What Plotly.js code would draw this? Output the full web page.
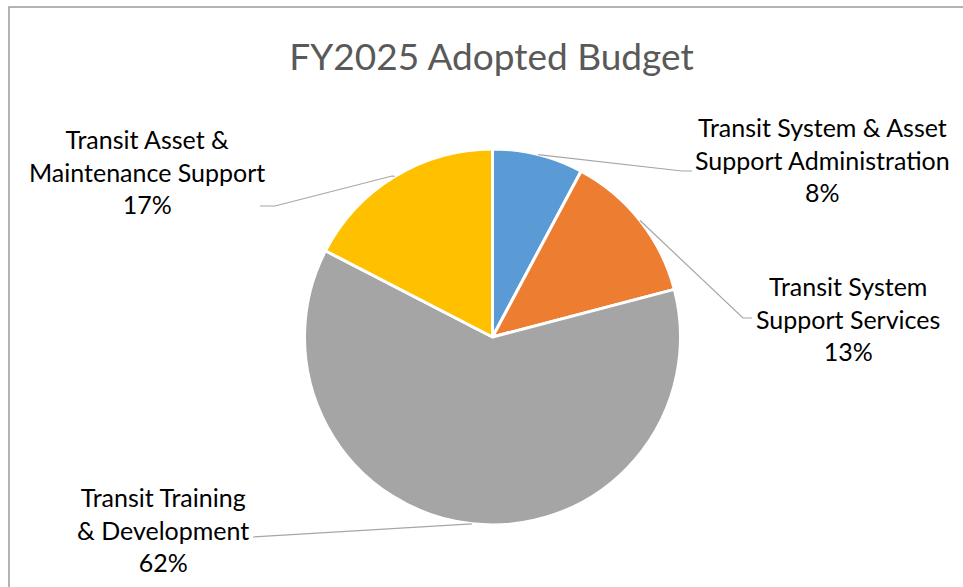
<!DOCTYPE html>
<html>
<head>
<meta charset="utf-8">
<script src="https://cdn.plot.ly/plotly-3.0.1.min.js"></script>
<style>html,body{margin:0;padding:0;background:#fff;}#chart{width:963px;height:587px;}</style>
</head>
<body>
<div id="chart"></div>
<script>
// ---- Data ----
const categories = [
  "Transit System & Asset Support Administration",
  "Transit System Support Services",
  "Transit Training & Development",
  "Transit Asset & Maintenance Support"
];
const labelLines = [
  "Transit System & Asset<br>Support Administration",
  "Transit System<br>Support Services",
  "Transit Training<br>& Development",
  "Transit Asset &<br>Maintenance Support"
];
const values = [7.8, 13.1, 61.6, 17.4];
const colors = ["#5B9BD5", "#ED7D31", "#A5A5A5", "#FFC000"];
const chartTitle = "FY2025 Adopted Budget";

// ---- Layout geometry (pixels) ----
const W = 963, H = 587;
const cx = 492.5, cy = 337, R = 188;
const px = x => x / W;
const py = y => 1 - y / H;

// label centres (middle line) and leader elbows / ends
const labelPos = [[822, 159], [848, 318], [163, 529], [147, 171]];
const elbows = [[682, 171], [743, 318], [475, 524], [392, 176]];
const ends   = [[692, 171], [752, 318], [253, 537], [275, 206]];
const ends2  = [null, null, null, [260, 206]];

const total = values.reduce((a, b) => a + b, 0);
let cum = 0;
const shapes = [];
const annotations = [];
values.forEach((v, i) => {
  const mid = (cum + v / 2) / total;
  cum += v;
  const ang = mid * 2 * Math.PI;
  const sx = cx + R * Math.sin(ang);
  const sy = cy - R * Math.cos(ang);
  const pts = [[sx, sy]];
  if (i !== 2) pts.push(elbows[i]);
  pts.push(ends[i]);
  if (ends2[i]) pts.push(ends2[i]);
  let path = "";
  pts.forEach((p, k) => { path += (k ? " L " : "M ") + px(p[0]) + "," + py(p[1]); });
  shapes.push({type: "path", xref: "paper", yref: "paper", path: path,
               line: {color: "#A6A6A6", width: 1.2}});
  const pct = Math.round(v / total * 100);
  annotations.push({
    xref: "paper", yref: "paper",
    x: px(labelPos[i][0]), y: py(labelPos[i][1]),
    xanchor: "center", yanchor: "middle",
    text: labelLines[i] + "<br>" + pct + "%",
    showarrow: false, align: "center",
    font: {family: "Lato, 'Open Sans', sans-serif", size: 25, color: "#000000"}
  });
});

// chart border
shapes.push({type: "rect", xref: "paper", yref: "paper",
  x0: px(9), y0: py(7), x1: px(975), y1: py(600),
  line: {color: "#9A9A9A", width: 1.5}, fillcolor: "rgba(0,0,0,0)"});

const trace = {
  type: "pie",
  labels: categories,
  values: values,
  sort: false,
  direction: "clockwise",
  rotation: 0,
  textinfo: "none",
  hoverinfo: "label+percent",
  marker: {colors: colors, line: {color: "#FFFFFF", width: 3}},
  domain: {x: [px(cx - R), px(cx + R)], y: [py(cy + R), py(cy - R)]},
  showlegend: false
};

const layout = {
  width: W, height: H,
  margin: {l: 0, r: 0, t: 0, b: 0},
  paper_bgcolor: "#FFFFFF",
  title: {
    text: chartTitle,
    x: px(491.5), xref: "paper", xanchor: "center",
    y: py(57), yref: "container", yanchor: "middle",
    font: {family: "Lato, 'Open Sans', sans-serif", size: 37, color: "#595959"}
  },
  shapes: shapes,
  annotations: annotations,
  showlegend: false
};

Plotly.newPlot("chart", [trace], layout, {displayModeBar: false, staticPlot: true});
</script>
</body>
</html>
